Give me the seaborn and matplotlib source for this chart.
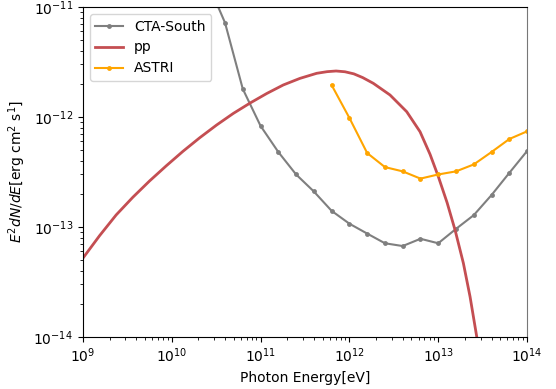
import numpy as np
import pandas as pd
import matplotlib
matplotlib.use('Agg')
import matplotlib.pyplot as plt
import seaborn as sns

# CTA-South sensitivity
cta_energy = [10**10.4, 10**10.6, 10**10.8, 10**11.0, 10**11.2, 10**11.4, 10**11.6, 10**11.8,
              10**12.0, 10**12.2, 10**12.4, 10**12.6, 10**12.8, 10**13.0, 10**13.2, 10**13.4,
              10**13.6, 10**13.8, 10**14.0]
cta_flux = [1.7e-11, 7.2e-12, 1.8e-12, 8.3e-13, 4.8e-13, 3.0e-13, 2.1e-13, 1.4e-13,
            1.07e-13, 8.7e-14, 7.1e-14, 6.7e-14, 7.8e-14, 7.1e-14, 9.6e-14, 1.28e-13,
            1.95e-13, 3.1e-13, 4.9e-13]

# pp model (log10 values)
pp_log_energy = [9.0, 9.188, 9.375, 9.563, 9.751, 9.938, 10.126, 10.314, 10.506, 10.693,
                 10.881, 11.069, 11.256, 11.444, 11.632, 11.75, 11.85, 11.95, 12.05, 12.15,
                 12.269, 12.457, 12.645, 12.795, 12.908, 13.0, 13.1, 13.19, 13.283, 13.358,
                 13.433, 13.5]
pp_log_flux = [-13.285, -13.08, -12.891, -12.73, -12.582, -12.445, -12.313, -12.19, -12.073, -11.968,
               -11.874, -11.787, -11.709, -11.649, -11.603, -11.588, -11.582, -11.589, -11.608, -11.642,
               -11.694, -11.8, -11.952, -12.134, -12.34, -12.54, -12.78, -13.03, -13.33, -13.634,
               -13.997, -14.35]

# ASTRI sensitivity
astri_energy = [10**11.8, 10**12.0, 10**12.2, 10**12.4, 10**12.6, 10**12.8, 10**13.0,
                10**13.2, 10**13.4, 10**13.6, 10**13.8, 10**14.0]
astri_flux = [1.95e-12, 9.8e-13, 4.7e-13, 3.5e-13, 3.2e-13, 2.75e-13, 3.0e-13,
              3.2e-13, 3.7e-13, 4.8e-13, 6.3e-13, 7.4e-13]

df_cta = pd.DataFrame({'E': cta_energy, 'F': cta_flux})
df_pp = pd.DataFrame({'E': np.power(10.0, pp_log_energy), 'F': np.power(10.0, pp_log_flux)})
df_astri = pd.DataFrame({'E': astri_energy, 'F': astri_flux})

fig = plt.figure(figsize=(5.56, 3.89), dpi=100)
ax = fig.add_axes([0.149, 0.134, 0.799, 0.848])

sns.lineplot(data=df_cta, x='E', y='F', ax=ax, color='#7f7f7f', marker='o',
             markersize=3.5, markeredgewidth=0, linewidth=1.5, label='CTA-South', sort=False)
sns.lineplot(data=df_pp, x='E', y='F', ax=ax, color='#c44e52', linewidth=2,
             label='pp', sort=False)
sns.lineplot(data=df_astri, x='E', y='F', ax=ax, color='orange', marker='o',
             markersize=3.5, markeredgewidth=0, linewidth=1.5, label='ASTRI', sort=False)

ax.set_xscale('log')
ax.set_yscale('log')
ax.set_xlim(1e9, 1e14)
ax.set_ylim(1e-14, 1e-11)
ax.set_xlabel('Photon Energy[eV]')
ax.set_ylabel(r'$E^2dN/dE$[erg cm$^2$ s$^1$]')
ax.spines['right'].set_color('#777777')
ax.legend(loc='upper left')

fig.savefig('out.png', dpi=100)
